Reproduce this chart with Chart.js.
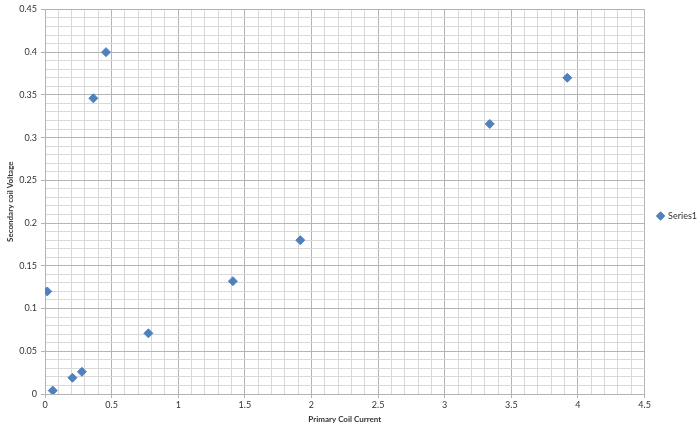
<!DOCTYPE html>
<html>
<head>
<meta charset="utf-8">
<script src="https://cdn.jsdelivr.net/npm/chart.js"></script>
<style>
  html, body { margin: 0; padding: 0; background: #fff; }
  #wrap { width: 700px; height: 431px; }
</style>
</head>
<body>
<div id="wrap"><canvas id="graphique"></canvas></div>
<script>
// Valeurs
const seriesName = 'Series1';
const primaryCurrent = [0.017, 0.058, 0.206, 0.277, 0.363, 0.458, 0.776, 1.41, 1.916, 3.338, 3.92];
const secondaryVoltage = [0.120, 0.004, 0.019, 0.026, 0.346, 0.400, 0.071, 0.132, 0.180, 0.316, 0.370];
const xTickLabels = ['0', '0.5', '1', '1.5', '2', '2.5', '3', '3.5', '4', '4.5'];
const yTickLabels = ['0', '0.05', '0.1', '0.15', '0.2', '0.25', '0.3', '0.35', '0.4', '0.45'];

const points = primaryCurrent.map(function (x, i) {
    return { x: x, y: secondaryVoltage[i] };
});

const fontFamily = 'Lato, "Open Sans", sans-serif';

function majorX(v) { return Math.round(v * 10) % 5 === 0; }
function majorY(v) { return Math.round(v * 100) % 5 === 0; }

const ctx = document.getElementById('graphique').getContext('2d');
new Chart(ctx, {
    type: 'scatter',
    data: {
        datasets: [{
            label: seriesName,
            data: points,
            backgroundColor: '#4f81bd',
            borderColor: '#4f81bd',
            pointStyle: 'rectRot',
            pointRadius: 4.5,
            pointHoverRadius: 4.5
        }]
    },
    options: {
        responsive: true,
        maintainAspectRatio: false,
        animation: false,
        layout: {
            padding: { top: 8, right: -7, left: 6, bottom: 7 }
        },
        plugins: {
            legend: {
                position: 'right',
                labels: {
                    usePointStyle: true,
                    pointStyle: 'rectRot',
                    boxWidth: 6,
                    boxHeight: 6,
                    padding: 13,
                    color: '#333',
                    font: { family: fontFamily, size: 9 }
                }
            },
            tooltip: { enabled: false }
        },
        scales: {
            x: {
                type: 'linear',
                min: 0,
                max: 4.5,
                afterFit: function (scale) { scale.height = 30; },
                ticks: {
                    stepSize: 0.1,
                    autoSkip: false,
                    maxRotation: 0,
                    padding: 2,
                    color: '#333',
                    font: { family: fontFamily, size: 9 },
                    callback: function (v) {
                        const k = Math.round(v * 10);
                        return k % 5 === 0 ? xTickLabels[k / 5] : '';
                    }
                },
                grid: {
                    color: function (c) { return majorX(c.tick.value) ? '#b4b4b4' : '#d9d9d9'; },
                    tickColor: function (c) { return majorX(c.tick.value) ? '#b4b4b4' : 'rgba(0,0,0,0)'; },
                    tickLength: 4,
                    lineWidth: 1
                },
                border: { color: '#b4b4b4' },
                title: {
                    display: true,
                    text: 'Primary Coil Current',
                    color: '#333',
                    font: { family: fontFamily, size: 8, weight: 'bold' },
                    padding: { top: 2, bottom: 0 }
                }
            },
            y: {
                type: 'linear',
                min: 0,
                max: 0.45,
                afterFit: function (scale) { scale.width = 39; },
                ticks: {
                    stepSize: 0.01,
                    autoSkip: false,
                    padding: 4,
                    color: '#333',
                    font: { family: fontFamily, size: 9 },
                    callback: function (v) {
                        const k = Math.round(v * 100);
                        return k % 5 === 0 ? yTickLabels[k / 5] : '';
                    }
                },
                grid: {
                    color: function (c) { return majorY(c.tick.value) ? '#b4b4b4' : '#d9d9d9'; },
                    tickColor: function (c) { return majorY(c.tick.value) ? '#b4b4b4' : 'rgba(0,0,0,0)'; },
                    tickLength: 4,
                    lineWidth: 1
                },
                border: { color: '#b4b4b4' },
                title: {
                    display: true,
                    text: 'Secondary coil Voltage',
                    color: '#333',
                    font: { family: fontFamily, size: 8, weight: 'bold' },
                    padding: { top: 0, bottom: 2 }
                }
            }
        }
    }
});
</script>
</body>
</html>
